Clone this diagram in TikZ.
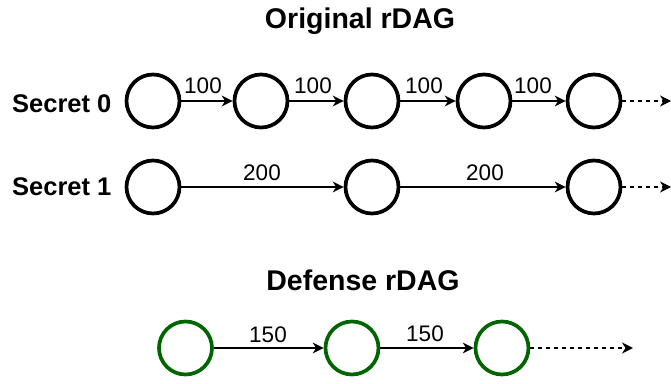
\documentclass[tikz,border=0pt]{standalone}
\usepackage{fontspec}
\setmainfont{Liberation Sans}
\usetikzlibrary{arrows.meta}
\definecolor{defgreen}{RGB}{0,100,0}
\tikzset{
  state/.style={circle, draw=black, line width=3.7pt, minimum size=53pt, inner sep=0pt},
  defstate/.style={state, draw=defgreen},
  edge/.style={line width=1.4pt, -{Stealth[length=11pt, width=11pt, inset=3.5pt]}},
  more/.style={edge, dashed, dash pattern=on 4pt off 4pt},
  title/.style={anchor=base, inner sep=0pt, font=\fontsize{28.5}{32}\selectfont\bfseries},
  rowname/.style={anchor=base west, inner sep=0pt, font=\fontsize{25.5}{29}\selectfont\bfseries},
  weight/.style={anchor=base, inner sep=0pt, font=\fontsize{22.5}{26}\selectfont},
}
\begin{document}
\begin{tikzpicture}[x=1pt, y=-1pt]
  \useasboundingbox (0,0) rectangle (671,383);

  % original schedule
  \node[title] (t0) at (360,28) {Original rDAG};
  \node[rowname] (s0) at (12,112) {Secret 0};
  \node[rowname] (s1) at (12,195) {Secret 1};

  \node[state] (a1) at (153,101) {};
  \node[state] (a2) at (261,101) {};
  \node[state] (a3) at (372,101) {};
  \node[state] (a4) at (484,101) {};
  \node[state] (a5) at (594,101) {};
  \coordinate (a6) at (671,101);

  \draw[edge] (a1) -- (a2);
  \draw[edge] (a2) -- (a3);
  \draw[edge] (a3) -- (a4);
  \draw[edge] (a4) -- (a5);
  \draw[more] (a5) -- (a6);
  \node[weight] (w1) at (203,93) {100};
  \node[weight] (w2) at (313,93) {100};
  \node[weight] (w3) at (424,93) {100};
  \node[weight] (w4) at (533,93) {100};

  \node[state] (b1) at (153,187) {};
  \node[state] (b2) at (372,187) {};
  \node[state] (b3) at (594,187) {};
  \coordinate (b4) at (671,187);

  \draw[edge] (b1) -- (b2);
  \draw[edge] (b2) -- (b3);
  \draw[more] (b3) -- (b4);
  \node[weight] (v1) at (262,180) {200};
  \node[weight] (v2) at (485,180) {200};

  % defense schedule
  \node[title] (t1) at (363,290) {Defense rDAG};

  \node[defstate] (c1) at (185.5,348) {};
  \node[defstate] (c2) at (352,348) {};
  \node[defstate] (c3) at (502,348) {};
  \coordinate (c4) at (633,348);

  \draw[edge] (c1) -- (c2);
  \draw[edge] (c2) -- (c3);
  \draw[more] (c3) -- (c4);
  \node[weight] (u1) at (268,342) {150};
  \node[weight] (u2) at (425,341) {150};
\end{tikzpicture}
\end{document}
